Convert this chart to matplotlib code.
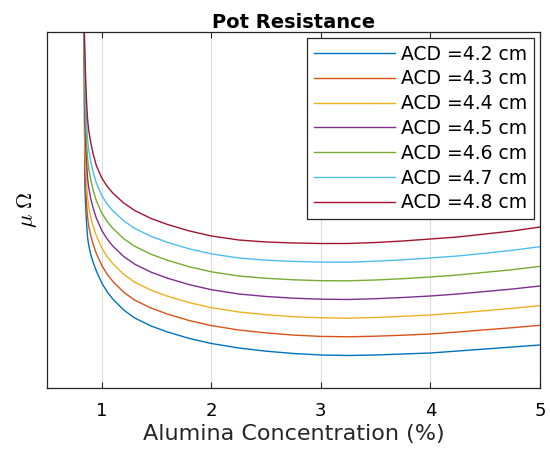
import numpy as np
import matplotlib
matplotlib.use("Agg")
import matplotlib.pyplot as plt

plt.rcParams["font.family"] = ["DejaVu Sans"]
plt.rcParams["mathtext.fontset"] = "cm"

# Alumina concentration (%)
alumina = [0.838, 0.845, 0.85, 0.86, 0.87, 0.88, 0.90, 0.92, 0.95, 1.0,
           1.05, 1.1, 1.2, 1.3, 1.45, 1.6, 1.8, 2.0, 2.25, 2.5,
           2.75, 3.0, 3.25, 3.5, 3.75, 4.0, 4.25, 4.5, 4.75, 5.0]

# pot resistance (arbitrary units, no y ticks on the original)
acd_42 = [368, 203, 188, 166, 151, 143, 133, 126, 117, 105,
          96, 89, 78, 70, 62, 56, 49.5, 44.5, 40, 36.8,
          34.5, 33, 32.5, 33, 34, 35, 37, 39, 41, 43]
acd_43 = [368, 225.5, 209.7, 186.3, 170.7, 162.2, 151.7, 144.1, 134.6, 122.5,
          113.6, 106.7, 95.8, 87.9, 79.9, 73.9, 67.4, 62.4, 58, 55.1,
          52.9, 51.6, 51.2, 51.8, 52.8, 54, 56, 58.2, 60.3, 62.7]
acd_44 = [368, 248, 231.3, 206.7, 190.3, 181.3, 170.3, 162.2, 152.2, 140,
          131.2, 124.3, 113.7, 105.8, 97.8, 91.8, 85.3, 80.3, 76, 73.3,
          71.3, 70.2, 69.8, 70.5, 71.7, 73, 75, 77.3, 79.7, 82.3]
acd_45 = [368, 270.5, 253, 227, 210, 200.5, 189, 180.3, 169.8, 157.5,
          148.8, 142, 131.5, 123.8, 115.8, 109.8, 103.3, 98.3, 94, 91.5,
          89.8, 88.8, 88.5, 89.3, 90.5, 92, 94, 96.5, 99, 102]
acd_46 = [368, 293, 274.7, 247.3, 229.7, 219.7, 207.7, 198.3, 187.3, 175,
          166.3, 159.7, 149.3, 141.7, 133.7, 127.7, 121.2, 116.2, 112, 109.7,
          108.2, 107.3, 107.2, 108, 109.3, 111, 113, 115.7, 118.3, 121.7]
acd_47 = [368, 315.5, 296.3, 267.7, 249.3, 238.8, 226.3, 216.4, 204.9, 192.5,
          183.9, 177.3, 167.2, 159.6, 151.6, 145.6, 139.1, 134.1, 130, 127.8,
          126.6, 125.9, 125.8, 126.8, 128.2, 130, 132, 134.8, 137.7, 141.3]
acd_48 = [368, 338, 318, 288, 269, 258, 245, 234.5, 222.5, 210,
          201.5, 195, 185, 177.5, 169.5, 163.5, 157, 152, 148, 146,
          145, 144.5, 144.5, 145.5, 147, 149, 151, 154, 157, 161]

labels = ["ACD =4.2 cm", "ACD =4.3 cm", "ACD =4.4 cm", "ACD =4.5 cm",
          "ACD =4.6 cm", "ACD =4.7 cm", "ACD =4.8 cm"]
colors = ["#0072BD", "#D95319", "#EDB120", "#7E2F8E",
          "#77AC30", "#4DBEEE", "#A2142F"]

fig = plt.figure(figsize=(5.5, 4.53), dpi=100)
ax = fig.add_axes([0.0855, 0.1435, 0.8963, 0.7859])

for y, lab, c in zip([acd_42, acd_43, acd_44, acd_45, acd_46, acd_47, acd_48],
                     labels, colors):
    ax.plot(alumina, y, color=c, lw=1.0, label=lab)

ax.set_xlim(0.5, 5)
ax.set_ylim(0, 356)
ax.set_xticks([1, 2, 3, 4, 5])
ax.set_yticks([])
ax.tick_params(axis="x", direction="in", top=True, length=4, labelsize=13,
               color="#262626", pad=10)
ax.grid(axis="x", color="#dedede", lw=0.8)
for s in ax.spines.values():
    s.set_color("#262626")
    s.set_linewidth(0.9)

ax.set_title("Pot Resistance", fontsize=14, fontweight="bold", pad=3)
ax.set_xlabel("Alumina Concentration (%)", fontsize=16, color="#262626", labelpad=3)
ax.set_ylabel(r"$\mu\ \Omega$", fontsize=16, labelpad=6)

leg = ax.legend(loc="upper right", fontsize=13.5, handlelength=4.3,
                labelspacing=0.31, borderpad=0.35, handletextpad=0.35,
                fancybox=False, framealpha=1, borderaxespad=0.32)
leg.get_frame().set_edgecolor("#262626")
leg.get_frame().set_linewidth(0.9)

fig.savefig("out.png", dpi=100)
